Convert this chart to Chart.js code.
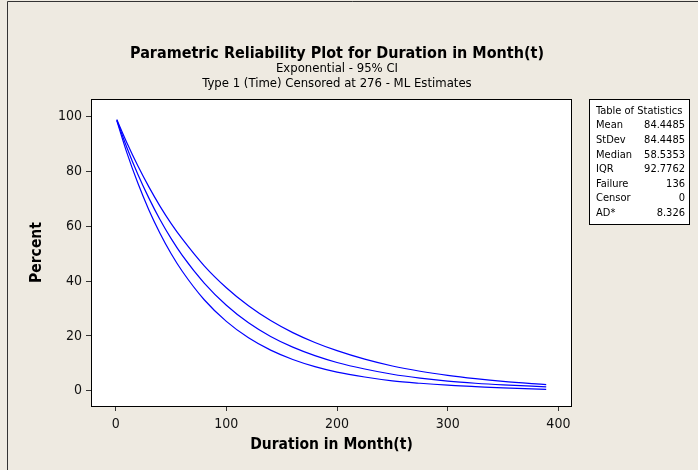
<!DOCTYPE html>
<html>
<head>
<meta charset="utf-8">
<script src="https://cdn.jsdelivr.net/npm/chart.js@4.4.1/dist/chart.umd.min.js"></script>
<style>
  html, body { margin: 0; padding: 0; background: #EEEAE1; }
  #wrap { width: 698px; height: 470px; }
</style>
</head>
<body>
<div id="wrap"><canvas id="grafico" width="698" height="470"></canvas></div>
<script>
// values (percent surviving vs months)
const months  = [1, 10, 20, 30, 40, 50, 60, 80, 100, 120, 140, 160, 180, 200, 225, 250, 275, 300, 325, 350, 389];
const upperCI = [99.0, 90.6, 82.1, 74.4, 67.4, 61.1, 55.5, 45.6, 37.6, 31.0, 25.6, 21.2, 17.6, 14.6, 11.5, 9.0, 7.1, 5.6, 4.4, 3.4, 2.2];
const fitted  = [98.8, 88.9, 79.0, 70.3, 62.5, 55.6, 49.5, 39.3, 31.2, 24.8, 19.8, 15.9, 12.8, 10.3, 7.9, 6.0, 4.6, 3.5, 2.7, 2.1, 1.4];
const lowerCI = [98.6, 87.0, 75.8, 66.0, 57.5, 50.1, 43.7, 33.2, 25.3, 19.3, 14.8, 11.4, 8.8, 6.8, 5.0, 3.6, 2.7, 2.0, 1.5, 1.0, 0.5];

const xTicks = [0, 100, 200, 300, 400];
const yTicks = [0, 20, 40, 60, 80, 100];

const titleLines = [
    'Parametric Reliability Plot for Duration in Month(t)',
    'Exponential - 95% CI',
    'Type 1 (Time) Censored at 276 - ML Estimates'
];
const xTitle = 'Duration in Month(t)';
const yTitle = 'Percent';

const statNames  = ['Mean', 'StDev', 'Median', 'IQR', 'Failure', 'Censor', 'AD*'];
const statValues = ['84.4485', '84.4485', '58.5353', '92.7762', '136', '0', '8.326'];

const FONT = '"DejaVu Sans Condensed", "DejaVu Sans", sans-serif';

function toPoints(ys) {
    return months.map((m, i) => ({ x: m, y: ys[i] }));
}

function curve(label, ys) {
    return {
        label: label,
        data: toPoints(ys),
        borderColor: '#0000FF',
        borderWidth: 1.2,
        pointRadius: 0,
        fill: false,
        cubicInterpolationMode: 'monotone'
    };
}

const decor = {
    id: 'decor',
    beforeDraw(chart) {
        const ctx = chart.ctx;
        const a = chart.chartArea;
        ctx.save();
        ctx.fillStyle = '#EEEAE1';
        ctx.fillRect(0, 0, chart.width, chart.height);
        // outer frame (left and top only, picture is cropped)
        ctx.strokeStyle = '#333';
        ctx.lineWidth = 1;
        ctx.beginPath();
        ctx.moveTo(7.5, chart.height);
        ctx.lineTo(7.5, 1.5);
        ctx.lineTo(chart.width, 1.5);
        ctx.stroke();
        ctx.fillStyle = '#FFFFFF';
        ctx.fillRect(a.left, a.top, a.right - a.left, a.bottom - a.top);
        ctx.restore();
    },
    afterDraw(chart) {
        const ctx = chart.ctx;
        const a = chart.chartArea;
        ctx.save();
        ctx.strokeStyle = '#000';
        ctx.lineWidth = 1;
        ctx.strokeRect(a.left + 0.5, a.top + 0.5, a.right - a.left - 1, a.bottom - a.top);

        ctx.fillStyle = '#000';
        ctx.textAlign = 'center';
        ctx.textBaseline = 'middle';
        ctx.font = 'bold 16px ' + FONT;
        ctx.fillText(titleLines[0], 337, 54);
        ctx.font = '13px ' + FONT;
        ctx.fillText(titleLines[1], 337, 69);
        ctx.fillText(titleLines[2], 337, 84);

        ctx.font = 'bold 15.5px ' + FONT;
        ctx.fillText(xTitle, (a.left + a.right) / 2, 445);
        ctx.translate(37, (a.top + a.bottom) / 2);
        ctx.rotate(-Math.PI / 2);
        ctx.fillText(yTitle, 0, 0);
        ctx.restore();

        // table of statistics
        ctx.save();
        ctx.strokeStyle = '#000';
        ctx.lineWidth = 1;
        ctx.fillStyle = '#FFFFFF';
        ctx.fillRect(589.5, 99.5, 100, 125);
        ctx.strokeRect(589.5, 99.5, 100, 125);
        ctx.fillStyle = '#000';
        ctx.font = '11px ' + FONT;
        ctx.textBaseline = 'middle';
        ctx.textAlign = 'left';
        ctx.fillText('Table of Statistics', 596, 111);
        statNames.forEach((n, i) => {
            const y = 125.6 + i * 14.6;
            ctx.textAlign = 'left';
            ctx.fillText(n, 596, y);
            ctx.textAlign = 'right';
            ctx.fillText(statValues[i], 685, y);
        });
        ctx.restore();
    }
};

const ctx = document.getElementById('grafico').getContext('2d');
const myChart = new Chart(ctx, {
    type: 'line',
    data: {
        datasets: [
            curve('Upper', upperCI),
            curve('Fitted', fitted),
            curve('Lower', lowerCI)
        ]
    },
    options: {
        responsive: false,
        animation: false,
        devicePixelRatio: 1,
        layout: { padding: { left: 0, top: 99, right: 126, bottom: 0 } },
        plugins: {
            legend: { display: false },
            tooltip: { enabled: false }
        },
        scales: {
            x: {
                type: 'linear',
                min: -22.3,
                max: 412.3,
                afterBuildTicks: (s) => { s.ticks = xTicks.map(v => ({ value: v })); },
                afterFit: (s) => { s.height = 64; },
                border: { display: false },
                grid: { drawOnChartArea: false, tickLength: 5, tickColor: '#333' },
                ticks: { font: { size: 14, family: FONT }, color: '#111', padding: 5 }
            },
            y: {
                type: 'linear',
                min: -5.6,
                max: 106.5,
                afterBuildTicks: (s) => { s.ticks = yTicks.map(v => ({ value: v })); },
                afterFit: (s) => { s.width = 91; },
                border: { display: false },
                grid: { drawOnChartArea: false, tickLength: 5, tickColor: '#333' },
                ticks: { font: { size: 14, family: FONT }, color: '#111', padding: 4 }
            }
        }
    },
    plugins: [decor]
});
</script>
</body>
</html>
